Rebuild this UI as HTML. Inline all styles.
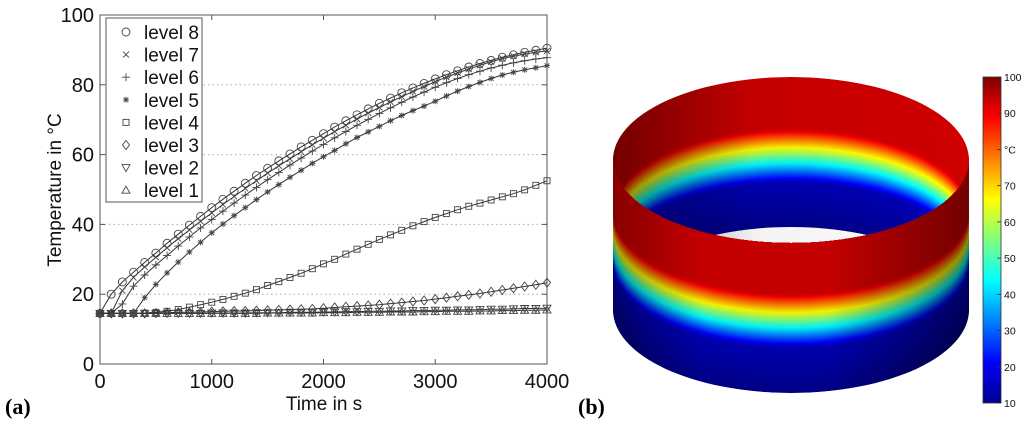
<!DOCTYPE html>
<html><head><meta charset="utf-8"><style>
body{margin:0;background:#fff;width:1024px;height:422px;overflow:hidden}
svg{display:block;font-family:"Liberation Sans",sans-serif}
</style></head><body>
<svg id="fig" width="1024" height="422" viewBox="0 0 1024 422">
<defs>
<clipPath id="topClip"><ellipse cx="791" cy="160" rx="178" ry="83"/></clipPath>
<clipPath id="frontClip"><path d="M613,160 A178,83 0 0 0 969,160 L969,310 A178,83 0 0 1 613,310 Z"/></clipPath>
<linearGradient id="frontShade" x1="0" x2="1" y1="0" y2="0">
<stop offset="0" stop-color="#000" stop-opacity="0.35"/><stop offset="0.25" stop-color="#000" stop-opacity="0.05"/>
<stop offset="0.6" stop-color="#000" stop-opacity="0.05"/><stop offset="1" stop-color="#000" stop-opacity="0.45"/></linearGradient>
<linearGradient id="innerShade" x1="0" x2="1" y1="0" y2="0">
<stop offset="0" stop-color="#000" stop-opacity="0.45"/><stop offset="0.4" stop-color="#000" stop-opacity="0.05"/>
<stop offset="1" stop-color="#000" stop-opacity="0"/></linearGradient>
<linearGradient id="jet" x1="0" x2="0" y1="1" y2="0">
<stop offset="0" stop-color="#00008f"/><stop offset="0.125" stop-color="#0000ff"/><stop offset="0.375" stop-color="#00ffff"/>
<stop offset="0.625" stop-color="#ffff00"/><stop offset="0.875" stop-color="#ff0000"/><stop offset="1" stop-color="#800000"/></linearGradient>
</defs>
<g id="chartA"></g>
<g id="cyl"></g>
<g id="cbar"></g>
<text x="5" y="414" font-family="Liberation Serif,serif" font-size="22" font-weight="bold">(a)</text>
<text x="578" y="414" font-family="Liberation Serif,serif" font-size="22" font-weight="bold">(b)</text>
</svg>
<script>
const times=[0,100,200,300,400,500,600,700,800,900,1000,1100,1200,1300,1400,1500,1600,1700,1800,1900,2000,2100,2200,2300,2400,2500,2600,2700,2800,2900,3000,3100,3200,3300,3400,3500,3600,3700,3800,3900,4000];
const level8=[14.5,20,23.5,26.3,29.1,31.8,34.6,37.2,39.8,42.3,44.8,47.2,49.5,51.8,54,56.1,58.2,60.2,62.2,64.1,66,67.9,69.7,71.4,73.1,74.7,76.2,77.7,79.1,80.4,81.7,82.9,84,85.1,86.1,87,87.9,88.6,89.3,89.9,90.5];
const level7=[14.5,14.5,21,24.8,27.8,30.6,33.3,35.9,38.4,40.9,43.3,45.7,48,50.3,52.5,54.7,56.8,58.8,60.8,62.8,64.7,66.6,68.4,70.2,71.9,73.5,75.1,76.6,78.1,79.5,80.9,82.2,83.4,84.5,85.6,86.6,87.5,88.2,88.8,89.3,89.7];
const level6=[14.5,14.5,17.2,22.3,25.5,28.4,31.1,33.8,36.4,39,41.4,43.8,46.1,48.4,50.6,52.8,54.9,57,59,61,62.9,64.8,66.6,68.4,70.1,71.8,73.4,75,76.5,77.9,79.3,80.6,81.8,82.9,83.9,84.8,85.6,86.3,86.9,87.4,87.8];
const level5=[14.5,14.5,14.5,14.5,19,22.8,26.1,29.2,32.1,34.9,37.6,40.1,42.5,44.8,47.1,49.3,51.4,53.5,55.5,57.5,59.4,61.2,63.1,64.9,66.5,68.1,69.7,71.2,72.6,73.9,75.3,76.8,78.2,79.5,80.7,81.8,82.8,83.6,84.3,84.9,85.5];
const level4=[14.5,14.5,14.5,14.5,14.6,14.8,15.1,15.6,16.3,17,17.7,18.5,19.4,20.3,21.3,22.5,23.6,24.8,26,27.3,28.7,30,31.5,32.9,34.3,35.7,37,38.3,39.6,40.8,42,43.1,44.2,45.2,46.1,47,47.9,48.8,49.9,51.2,52.5];
const level3=[14.5,14.5,14.5,14.5,14.5,14.6,14.7,14.8,14.8,14.9,15,15.1,15.2,15.2,15.3,15.4,15.5,15.6,15.7,15.8,16,16.2,16.4,16.6,16.8,17,17.3,17.6,17.9,18.2,18.6,19,19.4,19.8,20.2,20.7,21.2,21.7,22.2,22.7,23.3];
const level2=[14.5,14.5,14.5,14.5,14.5,14.5,14.5,14.5,14.5,14.5,14.6,14.6,14.6,14.6,14.7,14.7,14.7,14.8,14.8,14.8,14.9,14.9,15,15,15.1,15.1,15.2,15.2,15.3,15.3,15.4,15.4,15.5,15.5,15.6,15.7,15.7,15.8,15.9,15.9,16];
const level1=[14.5,14.5,14.5,14.5,14.5,14.5,14.5,14.5,14.5,14.5,14.5,14.5,14.5,14.5,14.5,14.6,14.6,14.6,14.6,14.6,14.7,14.7,14.7,14.8,14.8,14.8,14.9,14.9,14.9,15,15,15.1,15.1,15.1,15.2,15.2,15.3,15.3,15.4,15.4,15.5];
const xTicks=[0,1000,2000,3000,4000];
const yTicks=[0,20,40,60,80,100];
const seriesNames=["level 8","level 7","level 6","level 5","level 4","level 3","level 2","level 1"];
const seriesMarkers=["circle","x","plus","star","square","diamond","tridown","triup"];
const cbTicks=[10,20,30,40,50,60,70,80,90,100];
const cbLabels=["10","20","30","40","50","60","70","°C","90","100"];

const NS="http://www.w3.org/2000/svg";
function mk(tag,attrs,parent){const e=document.createElementNS(NS,tag);for(const k in attrs)e.setAttribute(k,attrs[k]);parent.appendChild(e);return e;}
const X0=100,X1=547,Y0=364,Y1=15;
const sx=v=>X0+(v-0)/4000*(X1-X0);
const sy=v=>Y0-(v-0)/100*(Y0-Y1);
const A=document.getElementById('chartA');

yTicks.slice(1,5).forEach(t=>{const l=mk('line',{x1:X0,x2:X1,y1:sy(t),y2:sy(t),stroke:'#aaa','stroke-dasharray':'1.5,3','stroke-width':1},A);

});
const fr=mk('rect',{x:X0,y:Y1,width:X1-X0,height:Y0-Y1,fill:'none',stroke:'#555','stroke-width':1},A);


xTicks.forEach(t=>{
 mk('line',{x1:sx(t),x2:sx(t),y1:Y0,y2:Y0-5,stroke:'#555'},A);
 mk('line',{x1:sx(t),x2:sx(t),y1:Y1,y2:Y1+5,stroke:'#555'},A);
 const tx=mk('text',{x:sx(t),y:388,'font-size':20,'text-anchor':'middle',fill:'#111'},A);tx.textContent=t;
 
 
});
yTicks.forEach(t=>{
 mk('line',{x1:X0,x2:X0+5,y1:sy(t),y2:sy(t),stroke:'#555'},A);
 mk('line',{x1:X1,x2:X1-5,y1:sy(t),y2:sy(t),stroke:'#555'},A);
 const tx=mk('text',{x:94,y:sy(t)+7,'font-size':20,'text-anchor':'end',fill:'#111'},A);tx.textContent=t;
 
 
});
const xt=mk('text',{x:324,y:410,'font-size':19,'text-anchor':'middle',fill:'#111'},A);xt.textContent='Time in s';


const yt=mk('text',{x:0,y:0,'font-size':19,'text-anchor':'middle',fill:'#111',transform:'translate(61,190) rotate(-90)'},A);yt.textContent='Temperature in °C';



function marker(kind,x,y,p){
 const st={fill:'none',stroke:'#444','stroke-width':0.9};const r=3.6;
 if(kind==='circle')return mk('circle',Object.assign({cx:x,cy:y,r:r+0.4},st),p);
 if(kind==='x')return mk('path',Object.assign({d:`M${x-3},${y-3}L${x+3},${y+3}M${x-3},${y+3}L${x+3},${y-3}`},st),p);
 if(kind==='plus')return mk('path',Object.assign({d:`M${x-4},${y}L${x+4},${y}M${x},${y-4}L${x},${y+4}`},st),p);
 if(kind==='star')return mk('path',Object.assign({d:`M${x-3},${y}L${x+3},${y}M${x},${y-3}L${x},${y+3}M${x-2.3},${y-2.3}L${x+2.3},${y+2.3}M${x-2.3},${y+2.3}L${x+2.3},${y-2.3}`,'stroke-width':1.3},st),p);
 if(kind==='square')return mk('rect',Object.assign({x:x-3,y:y-3,width:6,height:6},st),p);
 if(kind==='diamond')return mk('path',Object.assign({d:`M${x},${y-4.5}L${x+3.5},${y}L${x},${y+4.5}L${x-3.5},${y}Z`},st),p);
 if(kind==='tridown')return mk('path',Object.assign({d:`M${x-4},${y-3}L${x+4},${y-3}L${x},${y+4}Z`},st),p);
 return mk('path',Object.assign({d:`M${x-4},${y+3}L${x+4},${y+3}L${x},${y-4}Z`},st),p);
}
const allSeries=[level8,level7,level6,level5,level4,level3,level2,level1];
for(let s=allSeries.length-1;s>=0;s--){
 const vals=allSeries[s];
 const g=mk('g',{},A);
 
 
 const d=vals.map((v,i)=>(i?'L':'M')+sx(times[i]).toFixed(1)+','+sy(v).toFixed(1)).join('');
 mk('path',{d:d,fill:'none',stroke:'#333','stroke-width':1},g);
 vals.forEach((v,i)=>marker(seriesMarkers[s],sx(times[i]),sy(v),g));
}
const lg=mk('g',{},A);


mk('rect',{x:106,y:18,width:96,height:184,fill:'#fff',stroke:'#555'},lg);
seriesNames.forEach((n,i)=>{
 const y=32+i*22.6;
 const e=mk('g',{},lg);
 
 
 marker(seriesMarkers[i],126,y,e);
 const t=mk('text',{x:144,y:y+7,'font-size':19,fill:'#111'},e);t.textContent=n;
});

const C=document.getElementById('cyl');
function jet(T){let t=Math.max(0,Math.min(1,(T-10)/90));
 const f=(a)=>Math.max(0,Math.min(1,1.5-Math.abs(4*t-a)));
 return `rgb(${Math.round(255*f(3))},${Math.round(255*f(2))},${Math.round(255*f(1))})`;}
function tempAt(o){ if(o<52)return 93; if(o<105)return 93-(o-52)/53*78; return 15-(o-105)/45*4;}
const inner=mk('g',{'clip-path':'url(#topClip)'},C);


for(let o=0;o<=150;o+=1){mk('ellipse',{cx:791,cy:160+o,rx:178,ry:83,fill:jet(tempAt(o))},inner);}
mk('ellipse',{cx:791,cy:310,rx:178,ry:83,fill:'#fff'},inner);
mk('rect',{x:613,y:70,width:356,height:180,fill:'url(#innerShade)'},inner);
const front=mk('g',{'clip-path':'url(#frontClip)'},C);


for(let o=150;o>=0;o-=1){mk('ellipse',{cx:791,cy:160+o,rx:178,ry:83,fill:jet(tempAt(o))},front);}
mk('rect',{x:613,y:140,width:356,height:260,fill:'url(#frontShade)'},front);

const B=document.getElementById('cbar');
const cy=v=>403-(v-10)/90*326;
mk('rect',{x:983,y:77,width:18,height:326,fill:'url(#jet)',stroke:'#333','stroke-width':0.8},B);
cbTicks.forEach((t,i)=>{
 mk('line',{x1:997,x2:1001,y1:cy(t),y2:cy(t),stroke:'#333','stroke-width':0.8},B);
 const tx=mk('text',{x:1004,y:cy(t)+4,'font-size':10.5,fill:'#111'},B);tx.textContent=cbLabels[i];
 
 
});
</script>
</body></html>
